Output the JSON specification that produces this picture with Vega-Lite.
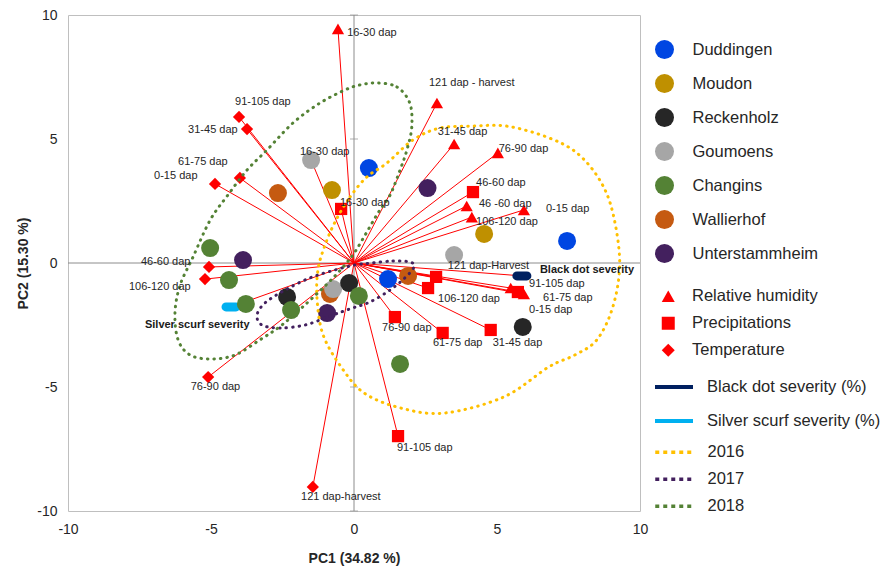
{
  "$schema": "https://vega.github.io/schema/vega-lite/v6.json",
  "width": 572,
  "height": 496,
  "autosize": {"type": "none"},
  "padding": {"left": 68, "top": 15, "right": 255, "bottom": 58},
  "background": "white",
  "config": {
    "font": "Liberation Sans",
    "view": {"stroke": "#BFBFBF", "strokeWidth": 1},
    "axis": {
      "grid": false, "domain": false, "ticks": false,
      "tickCount": 4,
      "labelExpr": "toString(datum.value)",
      "labelFontSize": 14, "labelColor": "#262626", "labelFlush": false, "labelOverlap": false,
      "titleFontSize": 14, "titleFontWeight": "bold", "titleColor": "#262626"
    },
    "axisX": {"labelPadding": 11, "titlePadding": 15},
    "axisY": {"labelPadding": 11, "titlePadding": 6},
    "legend": {"labelFontSize": 16.5, "labelColor": "#262626", "labelLimit": 300, "padding": 0}
  },
  "datasets": {
    "origin": [{"pc1": 0, "pc2": 0}],
    "yticks": [
      {"pc1": 0, "pc2": -10}, {"pc1": 0, "pc2": -5}, {"pc1": 0, "pc2": 5}, {"pc1": 0, "pc2": 10}
    ],
    "sites": [
      {"site": "Wallierhof", "pc1": -2.66, "pc2": 2.82},
      {"site": "Wallierhof", "pc1": -0.84, "pc2": -1.25},
      {"site": "Wallierhof", "pc1": 1.89, "pc2": -0.52},
      {"site": "Goumoens", "pc1": -1.50, "pc2": 4.15},
      {"site": "Goumoens", "pc1": -0.73, "pc2": -1.05},
      {"site": "Goumoens", "pc1": 3.50, "pc2": 0.32},
      {"site": "Reckenholz", "pc1": -2.34, "pc2": -1.37},
      {"site": "Reckenholz", "pc1": -0.17, "pc2": -0.81},
      {"site": "Reckenholz", "pc1": 5.90, "pc2": -2.58},
      {"site": "Duddingen", "pc1": 0.52, "pc2": 3.83},
      {"site": "Duddingen", "pc1": 7.45, "pc2": 0.89},
      {"site": "Duddingen", "pc1": 1.19, "pc2": -0.65},
      {"site": "Moudon", "pc1": -0.77, "pc2": 2.94},
      {"site": "Moudon", "pc1": 4.55, "pc2": 1.17},
      {"site": "Changins", "pc1": -5.03, "pc2": 0.60},
      {"site": "Changins", "pc1": -4.37, "pc2": -0.69},
      {"site": "Changins", "pc1": -3.78, "pc2": -1.65},
      {"site": "Changins", "pc1": -2.20, "pc2": -1.90},
      {"site": "Changins", "pc1": 0.17, "pc2": -1.33},
      {"site": "Changins", "pc1": 1.61, "pc2": -4.07},
      {"site": "Unterstammheim", "pc1": 2.57, "pc2": 3.02},
      {"site": "Unterstammheim", "pc1": -3.88, "pc2": 0.12},
      {"site": "Unterstammheim", "pc1": -0.94, "pc2": -2.02}
    ],
    "vars": [
      {"variable": "Relative humidity", "period": "16-30 dap", "pc1": -0.56, "pc2": 9.44, "lx": -0.24, "ly": 9.27},
      {"variable": "Relative humidity", "period": "121 dap - harvest", "pc1": 2.90, "pc2": 6.45, "lx": 2.62, "ly": 7.26},
      {"variable": "Relative humidity", "period": "31-45 dap", "pc1": 3.50, "pc2": 4.80, "lx": 2.93, "ly": 5.28},
      {"variable": "Relative humidity", "period": "76-90 dap", "pc1": 5.03, "pc2": 4.44, "lx": 5.06, "ly": 4.60},
      {"variable": "Relative humidity", "period": "46 -60 dap", "pc1": 3.94, "pc2": 2.30, "lx": 4.37, "ly": 2.38},
      {"variable": "Relative humidity", "period": "106-120 dap", "pc1": 4.12, "pc2": 1.85, "lx": 4.27, "ly": 1.65},
      {"variable": "Relative humidity", "period": "0-15 dap", "pc1": 5.94, "pc2": 2.14, "lx": 6.71, "ly": 2.18},
      {"variable": "Relative humidity", "period": "91-105 dap", "pc1": 5.48, "pc2": -1.01, "lx": 6.12, "ly": -0.85},
      {"variable": "Relative humidity", "period": "61-75 dap", "pc1": 5.94, "pc2": -1.25, "lx": 6.61, "ly": -1.41},
      {"variable": "Precipitations", "period": "46-60 dap", "pc1": 4.16, "pc2": 2.86, "lx": 4.27, "ly": 3.23},
      {"variable": "Precipitations", "period": "16-30 dap", "pc1": -0.45, "pc2": 2.18, "lx": -0.49, "ly": 2.42},
      {"variable": "Precipitations", "period": "121 dap-Harvest", "pc1": 2.87, "pc2": -0.56, "lx": 3.28, "ly": -0.12},
      {"variable": "Precipitations", "period": "106-120 dap", "pc1": 2.59, "pc2": -1.01, "lx": 2.94, "ly": -1.45},
      {"variable": "Precipitations", "period": "76-90 dap", "pc1": 1.43, "pc2": -2.18, "lx": 0.98, "ly": -2.62},
      {"variable": "Precipitations", "period": "61-75 dap", "pc1": 3.10, "pc2": -2.82, "lx": 2.76, "ly": -3.23},
      {"variable": "Precipitations", "period": "31-45 dap", "pc1": 4.78, "pc2": -2.70, "lx": 4.85, "ly": -3.23},
      {"variable": "Precipitations", "period": "91-105 dap", "pc1": 1.54, "pc2": -6.98, "lx": 1.50, "ly": -7.46},
      {"variable": "Precipitations", "period": "0-15 dap", "pc1": 5.73, "pc2": -1.17, "lx": 6.12, "ly": -1.90},
      {"variable": "Temperature", "period": "91-105 dap", "pc1": -4.02, "pc2": 5.89, "lx": -4.16, "ly": 6.49},
      {"variable": "Temperature", "period": "31-45 dap", "pc1": -3.74, "pc2": 5.40, "lx": -5.80, "ly": 5.36},
      {"variable": "Temperature", "period": "61-75 dap", "pc1": -3.99, "pc2": 3.43, "lx": -6.15, "ly": 4.07},
      {"variable": "Temperature", "period": "0-15 dap", "pc1": -4.86, "pc2": 3.19, "lx": -6.99, "ly": 3.51},
      {"variable": "Temperature", "period": "46-60 dap", "pc1": -5.07, "pc2": -0.16, "lx": -7.45, "ly": 0.04},
      {"variable": "Temperature", "period": "106-120 dap", "pc1": -5.21, "pc2": -0.65, "lx": -7.87, "ly": -0.97},
      {"variable": "Temperature", "period": "76-90 dap", "pc1": -5.10, "pc2": -4.60, "lx": -5.71, "ly": -5.00},
      {"variable": "Temperature", "period": "121 dap-harvest", "pc1": -1.44, "pc2": -9.03, "lx": -1.85, "ly": -9.44},
      {"variable": "Temperature", "period": "16-30 dap", "pc1": -1.50, "pc2": 4.15, "lx": -1.89, "ly": 4.48}
    ],
    "severity": [
      {"trait": "Black dot severity (%)", "label": "Black dot severity", "pc1": 5.87, "pc2": -0.52, "lx": 6.50, "ly": -0.28},
      {"trait": "Silver scurf severity (%)", "label": "Silver scurf severity", "pc1": -4.30, "pc2": -1.77, "lx": -7.31, "ly": -2.50}
    ],
    "years": [
      {"year": "2016", "i": 1, "pc1": -0.63, "pc2": 1.73},
      {"year": "2016", "i": 2, "pc1": -0.14, "pc2": 2.66},
      {"year": "2016", "i": 3, "pc1": 0.45, "pc2": 3.47},
      {"year": "2016", "i": 4, "pc1": 1.15, "pc2": 4.03},
      {"year": "2016", "i": 5, "pc1": 2.06, "pc2": 4.96},
      {"year": "2016", "i": 6, "pc1": 3.00, "pc2": 5.44},
      {"year": "2016", "i": 7, "pc1": 4.16, "pc2": 5.52},
      {"year": "2016", "i": 8, "pc1": 5.34, "pc2": 5.52},
      {"year": "2016", "i": 9, "pc1": 6.74, "pc2": 5.08},
      {"year": "2016", "i": 10, "pc1": 7.79, "pc2": 4.44},
      {"year": "2016", "i": 11, "pc1": 8.59, "pc2": 3.35},
      {"year": "2016", "i": 12, "pc1": 9.05, "pc2": 2.02},
      {"year": "2016", "i": 13, "pc1": 9.29, "pc2": 0.0},
      {"year": "2016", "i": 14, "pc1": 9.05, "pc2": -1.77},
      {"year": "2016", "i": 15, "pc1": 8.49, "pc2": -3.10},
      {"year": "2016", "i": 16, "pc1": 7.72, "pc2": -3.71},
      {"year": "2016", "i": 17, "pc1": 6.81, "pc2": -4.19},
      {"year": "2016", "i": 18, "pc1": 5.24, "pc2": -5.40},
      {"year": "2016", "i": 19, "pc1": 3.17, "pc2": -6.05},
      {"year": "2016", "i": 20, "pc1": 1.64, "pc2": -5.85},
      {"year": "2016", "i": 21, "pc1": 0.35, "pc2": -5.24},
      {"year": "2016", "i": 22, "pc1": -0.45, "pc2": -4.19},
      {"year": "2016", "i": 23, "pc1": -1.08, "pc2": -2.90},
      {"year": "2016", "i": 24, "pc1": -1.29, "pc2": -1.49},
      {"year": "2016", "i": 25, "pc1": -1.26, "pc2": -0.28},
      {"year": "2016", "i": 26, "pc1": -1.01, "pc2": 0.73},
      {"year": "2017", "i": 1, "pc1": 0.63, "pc2": 0.0},
      {"year": "2017", "i": 2, "pc1": 1.36, "pc2": 0.08},
      {"year": "2017", "i": 3, "pc1": 1.96, "pc2": 0.04},
      {"year": "2017", "i": 4, "pc1": 2.10, "pc2": -0.16},
      {"year": "2017", "i": 5, "pc1": 1.78, "pc2": -0.60},
      {"year": "2017", "i": 6, "pc1": 1.26, "pc2": -1.09},
      {"year": "2017", "i": 7, "pc1": 0.56, "pc2": -1.57},
      {"year": "2017", "i": 8, "pc1": -0.14, "pc2": -1.85},
      {"year": "2017", "i": 9, "pc1": -0.84, "pc2": -2.14},
      {"year": "2017", "i": 10, "pc1": -1.71, "pc2": -2.50},
      {"year": "2017", "i": 11, "pc1": -2.59, "pc2": -2.62},
      {"year": "2017", "i": 12, "pc1": -3.22, "pc2": -2.50},
      {"year": "2017", "i": 13, "pc1": -3.39, "pc2": -2.10},
      {"year": "2017", "i": 14, "pc1": -3.11, "pc2": -1.61},
      {"year": "2017", "i": 15, "pc1": -2.41, "pc2": -1.09},
      {"year": "2017", "i": 16, "pc1": -1.54, "pc2": -0.60},
      {"year": "2017", "i": 17, "pc1": -0.66, "pc2": -0.28},
      {"year": "2017", "i": 18, "pc1": 0.03, "pc2": -0.08},
      {"year": "2018", "i": 1, "pc1": 0.80, "pc2": 7.26},
      {"year": "2018", "i": 2, "pc1": 1.50, "pc2": 7.10},
      {"year": "2018", "i": 3, "pc1": 1.95, "pc2": 6.45},
      {"year": "2018", "i": 4, "pc1": 2.02, "pc2": 5.48},
      {"year": "2018", "i": 5, "pc1": 1.85, "pc2": 4.56},
      {"year": "2018", "i": 6, "pc1": 1.61, "pc2": 3.75},
      {"year": "2018", "i": 7, "pc1": 1.26, "pc2": 2.74},
      {"year": "2018", "i": 8, "pc1": 0.84, "pc2": 2.02},
      {"year": "2018", "i": 9, "pc1": 0.45, "pc2": 1.25},
      {"year": "2018", "i": 10, "pc1": 0.03, "pc2": 0.44},
      {"year": "2018", "i": 11, "pc1": -0.38, "pc2": -0.16},
      {"year": "2018", "i": 12, "pc1": -0.91, "pc2": -0.81},
      {"year": "2018", "i": 13, "pc1": -1.64, "pc2": -1.61},
      {"year": "2018", "i": 14, "pc1": -2.52, "pc2": -2.50},
      {"year": "2018", "i": 15, "pc1": -3.29, "pc2": -3.10},
      {"year": "2018", "i": 16, "pc1": -4.16, "pc2": -3.71},
      {"year": "2018", "i": 17, "pc1": -5.00, "pc2": -3.87},
      {"year": "2018", "i": 18, "pc1": -5.73, "pc2": -3.71},
      {"year": "2018", "i": 19, "pc1": -6.15, "pc2": -3.10},
      {"year": "2018", "i": 20, "pc1": -6.26, "pc2": -2.02},
      {"year": "2018", "i": 21, "pc1": -6.08, "pc2": -0.89},
      {"year": "2018", "i": 22, "pc1": -5.63, "pc2": 0.24},
      {"year": "2018", "i": 23, "pc1": -5.03, "pc2": 1.73},
      {"year": "2018", "i": 24, "pc1": -4.41, "pc2": 2.74},
      {"year": "2018", "i": 25, "pc1": -3.74, "pc2": 3.75},
      {"year": "2018", "i": 26, "pc1": -3.04, "pc2": 4.56},
      {"year": "2018", "i": 27, "pc1": -2.13, "pc2": 5.65},
      {"year": "2018", "i": 28, "pc1": -1.19, "pc2": 6.45},
      {"year": "2018", "i": 29, "pc1": -0.31, "pc2": 6.98},
      {"year": "2018", "i": 30, "pc1": 0.21, "pc2": 7.18}
    ]
  },
  "resolve": {"scale": {"color": "independent"}},
  "layer": [
    {
      "data": {"name": "origin"},
      "mark": {"type": "rule", "color": "#8C8C8C", "strokeWidth": 1},
      "encoding": {
        "x": {"field": "pc1", "type": "quantitative", "scale": {"domain": [-10, 10], "nice": false, "zero": false}, "title": "PC1 (34.82 %)"}
      }
    },
    {
      "data": {"name": "origin"},
      "mark": {"type": "rule", "color": "#8C8C8C", "strokeWidth": 1},
      "encoding": {
        "y": {"field": "pc2", "type": "quantitative", "scale": {"domain": [-10, 10], "nice": false, "zero": false}, "title": "PC2 (15.30 %)"}
      }
    },
    {
      "data": {"name": "yticks"},
      "mark": {"type": "tick", "orient": "horizontal", "size": 8, "thickness": 1, "color": "#8C8C8C"},
      "encoding": {
        "x": {"field": "pc1", "type": "quantitative", "title": "PC1 (34.82 %)"},
        "y": {"field": "pc2", "type": "quantitative", "title": "PC2 (15.30 %)"}
      }
    },
    {
      "data": {"name": "vars"},
      "mark": {"type": "rule", "color": "#FF0000", "strokeWidth": 1},
      "encoding": {
        "x": {"field": "pc1", "type": "quantitative", "title": "PC1 (34.82 %)"},
        "y": {"field": "pc2", "type": "quantitative", "title": "PC2 (15.30 %)"},
        "x2": {"datum": 0},
        "y2": {"datum": 0}
      }
    },
    {
      "data": {"name": "severity"},
      "mark": {"type": "rule", "color": "#FF0000", "strokeWidth": 1},
      "encoding": {
        "x": {"field": "pc1", "type": "quantitative", "title": "PC1 (34.82 %)"},
        "y": {"field": "pc2", "type": "quantitative", "title": "PC2 (15.30 %)"},
        "x2": {"datum": 0},
        "y2": {"datum": 0}
      }
    },
    {
      "data": {"name": "vars"},
      "mark": {"type": "point", "filled": true, "color": "#FF0000", "opacity": 1, "size": 150, "strokeWidth": 0},
      "encoding": {
        "x": {"field": "pc1", "type": "quantitative", "title": "PC1 (34.82 %)"},
        "y": {"field": "pc2", "type": "quantitative", "title": "PC2 (15.30 %)"},
        "shape": {
          "field": "variable", "type": "nominal",
          "scale": {"domain": ["Relative humidity", "Precipitations", "Temperature"], "range": ["triangle-up", "square", "diamond"]},
          "legend": {"title": null, "orient": "none", "legendX": 592, "legendY": 273, "symbolSize": 169, "symbolFillColor": "#FF0000", "symbolStrokeWidth": 0, "labelOffset": 15.5, "rowPadding": 10}
        }
      }
    },
    {
      "data": {"name": "severity"},
      "mark": {"type": "point", "shape": "M-1,0L1,0", "filled": false, "size": 100, "strokeWidth": 9, "strokeCap": "round", "opacity": 1},
      "encoding": {
        "x": {"field": "pc1", "type": "quantitative", "title": "PC1 (34.82 %)"},
        "y": {"field": "pc2", "type": "quantitative", "title": "PC2 (15.30 %)"},
        "color": {
          "field": "trait", "type": "nominal",
          "scale": {"domain": ["Black dot severity (%)", "Silver scurf severity (%)"], "range": ["#002060", "#00B0F0"]},
          "legend": {"title": null, "orient": "none", "legendX": 594.5, "legendY": 360.5, "symbolType": "M-2,0L2,0", "symbolSize": 361, "symbolStrokeWidth": 4, "labelOffset": 21.5, "rowPadding": 14}
        }
      }
    },
    {
      "data": {"name": "sites"},
      "mark": {"type": "circle", "size": 324, "opacity": 1},
      "encoding": {
        "x": {"field": "pc1", "type": "quantitative", "title": "PC1 (34.82 %)"},
        "y": {"field": "pc2", "type": "quantitative", "title": "PC2 (15.30 %)"},
        "color": {
          "field": "site", "type": "nominal",
          "scale": {
            "domain": ["Duddingen", "Moudon", "Reckenholz", "Goumoens", "Changins", "Wallierhof", "Unterstammheim"],
            "range": ["#0046E2", "#BF9000", "#262626", "#A6A6A6", "#548235", "#C55A11", "#43205E"]
          },
          "legend": {"title": null, "orient": "none", "legendX": 587, "legendY": 25, "symbolSize": 361, "symbolStrokeWidth": 0, "labelOffset": 18.5, "rowPadding": 15}
        }
      }
    },
    {
      "data": {"name": "years"},
      "mark": {"type": "line", "strokeWidth": 3, "strokeDash": [0.5, 6], "strokeCap": "round", "interpolate": "cardinal-closed"},
      "encoding": {
        "x": {"field": "pc1", "type": "quantitative", "title": "PC1 (34.82 %)"},
        "y": {"field": "pc2", "type": "quantitative", "title": "PC2 (15.30 %)"},
        "order": {"field": "i", "type": "quantitative"},
        "color": {
          "field": "year", "type": "nominal",
          "scale": {"domain": ["2016", "2017", "2018"], "range": ["#FFC000", "#43205E", "#548235"]},
          "legend": {"title": null, "orient": "none", "legendX": 594.75, "legendY": 425.75, "symbolType": "M-2,0L2,0", "symbolSize": 361, "symbolStrokeWidth": 3.5, "symbolDash": [4, 4], "labelOffset": 21.75, "rowPadding": 7}
        }
      }
    },
    {
      "data": {"name": "vars"},
      "mark": {"type": "text", "align": "left", "baseline": "middle", "fontSize": 11, "color": "#262626"},
      "encoding": {
        "x": {"field": "lx", "type": "quantitative", "title": "PC1 (34.82 %)"},
        "y": {"field": "ly", "type": "quantitative", "title": "PC2 (15.30 %)"},
        "text": {"field": "period"}
      }
    },
    {
      "data": {"name": "severity"},
      "mark": {"type": "text", "align": "left", "baseline": "middle", "fontSize": 11, "fontWeight": "bold", "color": "#1A1A1A"},
      "encoding": {
        "x": {"field": "lx", "type": "quantitative", "title": "PC1 (34.82 %)"},
        "y": {"field": "ly", "type": "quantitative", "title": "PC2 (15.30 %)"},
        "text": {"field": "label"}
      }
    }
  ]
}
